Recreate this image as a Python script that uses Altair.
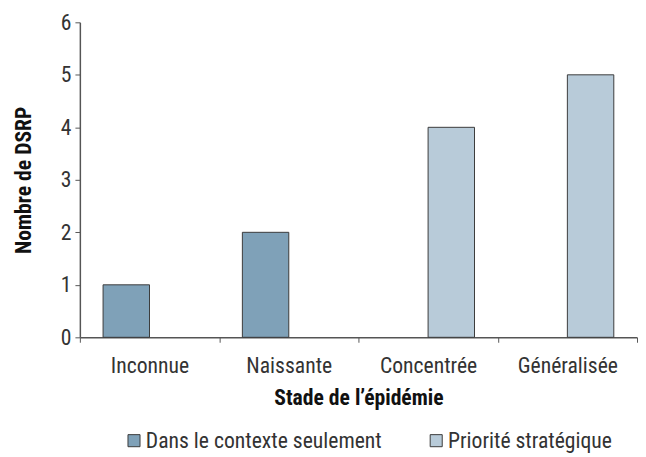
import altair as alt
import pandas as pd

categories = ["Inconnue", "Naissante", "Concentrée", "Généralisée"]
series_names = ["Dans le contexte seulement", "Priorité stratégique"]
contexte = [1, 2, 0, 0]
priorite = [0, 0, 4, 5]
y_ticks = [0, 1, 2, 3, 4, 5, 6]
colors = ["#7fa1b8", "#b8cbd9"]

rows = []
for i, c in enumerate(categories):
    rows.append({"stade": c, "serie": series_names[0], "valeur": contexte[i]})
    rows.append({"stade": c, "serie": series_names[1], "valeur": priorite[i]})
df = pd.DataFrame(rows)

FONT = "'Liberation Sans Narrow', 'Roboto Condensed', 'Arial Narrow', Roboto, sans-serif"

chart = (
    alt.Chart(df)
    .transform_filter("datum.valeur > 0")
    .mark_bar(stroke="#3a3a3a", strokeWidth=1)
    .encode(
        x=alt.X(
            "stade:N",
            sort=categories,
            scale=alt.Scale(paddingInner=0, paddingOuter=0),
            axis=alt.Axis(
                title="Stade de l’épidémie",
                labelAngle=0,
                tickBand="extent",
                tickSize=5,
                labelPadding=14,
                titlePadding=11,
            ),
        ),
        xOffset=alt.XOffset(
            "serie:N",
            sort=series_names,
            scale=alt.Scale(domain=series_names, paddingInner=0, paddingOuter=0.5),
        ),
        y=alt.Y(
            "valeur:Q",
            scale=alt.Scale(domain=[0, 6], nice=False),
            axis=alt.Axis(
                title="Nombre de DSRP",
                values=y_ticks,
                labelOverlap=False,
                grid=False,
                tickSize=5,
                labelPadding=4,
                titlePadding=25,
            ),
        ),
        color=alt.Color(
            "serie:N",
            sort=series_names,
            scale=alt.Scale(domain=series_names, range=colors),
            legend=alt.Legend(
                title=None,
                orient="none",
                legendX=44,
                legendY=414,
                direction="horizontal",
                symbolType="square",
                symbolSize=150,
                symbolStrokeColor="#3a3a3a",
                symbolStrokeWidth=1,
                symbolOpacity=1,
                labelFontSize=22,
                labelFont=FONT,
                labelColor="#333333",
                labelOffset=1,
                labelLimit=0,
                columnPadding=44,
            ),
        ),
    )
    .properties(width=566, height=320, padding={"left": 5, "top": 0, "right": 0, "bottom": 0})
    .configure_view(stroke=None)
    .configure_axis(
        labelFont=FONT,
        titleFont=FONT,
        labelFontSize=22,
        titleFontSize=22,
        labelColor="#333333",
        titleColor="#111111",
        titleFontWeight="bold",
        domainColor="#555555",
        tickColor="#555555",
        domainWidth=1.5,
    )
)

chart.save("out.html", embed_options={"renderer": "svg", "actions": False})
